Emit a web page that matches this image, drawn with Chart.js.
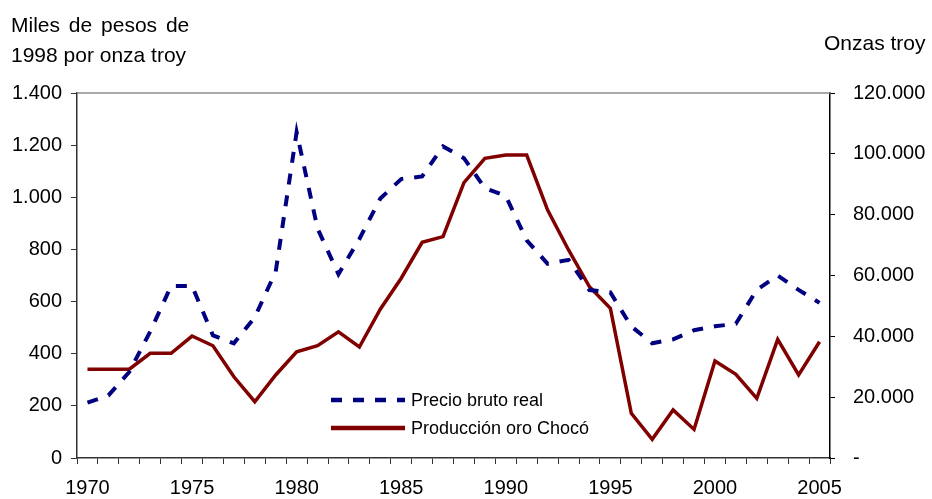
<!DOCTYPE html>
<html>
<head>
<meta charset="utf-8">
<script src="https://cdn.jsdelivr.net/npm/chart.js@4/dist/chart.umd.min.js"></script>
<style>
  body { margin: 0; background: #fff; }
  canvas { display: block; }
</style>
</head>
<body>
<canvas id="gold" width="932" height="499"></canvas>
<script>
const years = [];
for (let y = 1970; y <= 2005; y++) years.push(String(y));

// Precio bruto real (miles de pesos de 1998 por onza troy), eje izquierdo
const precio = [
  212, 240, 330, 485, 660, 660, 470, 440, 540, 715,
  1250, 880, 705, 840, 995, 1070, 1080, 1195, 1150, 1035,
  1005, 835, 745, 760, 644, 635, 505, 440, 455, 490,
  505, 515, 645, 700, 645, 595
];

// Producción oro Chocó (onzas troy), eje derecho
const produccion = [
  29200, 29200, 29200, 34400, 34400, 40100, 36900, 26700, 18500, 27300,
  34900, 36900, 41500, 36500, 48900, 59100, 70900, 72800, 90500, 98500,
  99600, 99600, 81500, 68400, 56300, 49200, 14700, 6150, 15800, 9400,
  31900, 27500, 19600, 39000, 27300, 38200
];

const seriesNames = ["Precio bruto real", "Producción oro Chocó"];
const titleLeft = ["Miles de pesos de", "1998 por onza troy"];
const titleRight = "Onzas troy";

const FONT = "'Liberation Sans', Arial, sans-serif";

function miles(v) {
  return String(v).replace(/\B(?=(\d{3})+(?!\d))/g, ".");
}

const extras = {
  id: "extras",
  afterDraw(chart) {
    const ctx = chart.ctx;
    const a = chart.chartArea;
    ctx.save();
    // gray frame line on top of plot area
    ctx.strokeStyle = "#8c8c8c";
    ctx.lineWidth = 1.5;
    ctx.beginPath();
    ctx.moveTo(a.left, a.top);
    ctx.lineTo(a.right, a.top);
    ctx.stroke();

    // axis titles
    ctx.fillStyle = "#000";
    ctx.font = "21px " + FONT;
    ctx.textBaseline = "alphabetic";
    ctx.textAlign = "left";
    if ("wordSpacing" in ctx) ctx.wordSpacing = "3px";
    ctx.fillText(titleLeft[0], 11, 32);
    ctx.wordSpacing = "0px";
    ctx.fillText(titleLeft[1], 11, 62);
    ctx.fillText(titleRight, 824, 50);

    // legend inside the plot
    const lx = a.left + 254, ly = a.top + 307;
    const sets = chart.data.datasets;
    ctx.font = "18px " + FONT;
    ctx.textBaseline = "middle";
    for (let i = 0; i < sets.length; i++) {
      const ds = sets[i];
      const yy = ly + i * 28;
      ctx.strokeStyle = ds.borderColor;
      ctx.lineWidth = 4.5;
      ctx.setLineDash(ds.borderDash || []);
      ctx.beginPath();
      ctx.moveTo(lx, yy);
      ctx.lineTo(lx + 74, yy);
      ctx.stroke();
      ctx.setLineDash([]);
      ctx.fillStyle = "#000";
      ctx.fillText(ds.label, lx + 80, yy + 1);
    }
    ctx.restore();
  }
};

new Chart(document.getElementById("gold"), {
  type: "line",
  data: {
    labels: years,
    datasets: [
      {
        label: seriesNames[0],
        data: precio,
        yAxisID: "y",
        borderColor: "#000080",
        borderWidth: 4,
        borderDash: [11, 11],
        pointRadius: 0,
        tension: 0,
        fill: false
      },
      {
        label: seriesNames[1],
        data: produccion,
        yAxisID: "y1",
        borderColor: "#800000",
        borderWidth: 3.5,
        pointRadius: 0,
        tension: 0,
        fill: false
      }
    ]
  },
  options: {
    responsive: false,
    animation: false,
    layout: { padding: { top: 93, left: 0, right: 0, bottom: 0 } },
    plugins: {
      legend: { display: false },
      tooltip: { enabled: false }
    },
    scales: {
      x: {
        type: "category",
        offset: true,
        grid: {
          offset: true,
          drawOnChartArea: false,
          color: "#333",
          tickLength: 6
        },
        border: { color: "#333", width: 1.5 },
        ticks: {
          autoSkip: false,
          maxRotation: 0,
          padding: 12,
          color: "#000",
          font: { family: FONT, size: 20 },
          callback: function (val, i) {
            const y = Number(this.getLabelForValue(val));
            return y % 5 === 0 ? String(y) : "";
          }
        },
        afterFit: (s) => { s.height = 41; }
      },
      y: {
        position: "left",
        min: 0,
        max: 1400,
        grid: {
          drawOnChartArea: false,
          color: "#333",
          tickLength: 6
        },
        border: { color: "#333", width: 1.5 },
        ticks: {
          stepSize: 200,
          padding: 9,
          color: "#000",
          font: { family: FONT, size: 20 },
          callback: (v) => miles(v)
        },
        afterFit: (s) => { s.width = 77; }
      },
      y1: {
        position: "right",
        min: 0,
        max: 120000,
        grid: {
          drawOnChartArea: false,
          color: "#000",
          tickLength: 5
        },
        border: { color: "#000", width: 1.5 },
        ticks: {
          stepSize: 20000,
          padding: 18,
          color: "#000",
          font: { family: FONT, size: 20 },
          callback: (v) => (v === 0 ? "-" : miles(v))
        },
        afterFit: (s) => { s.width = 102; }
      }
    }
  },
  plugins: [extras]
});
</script>
</body>
</html>
